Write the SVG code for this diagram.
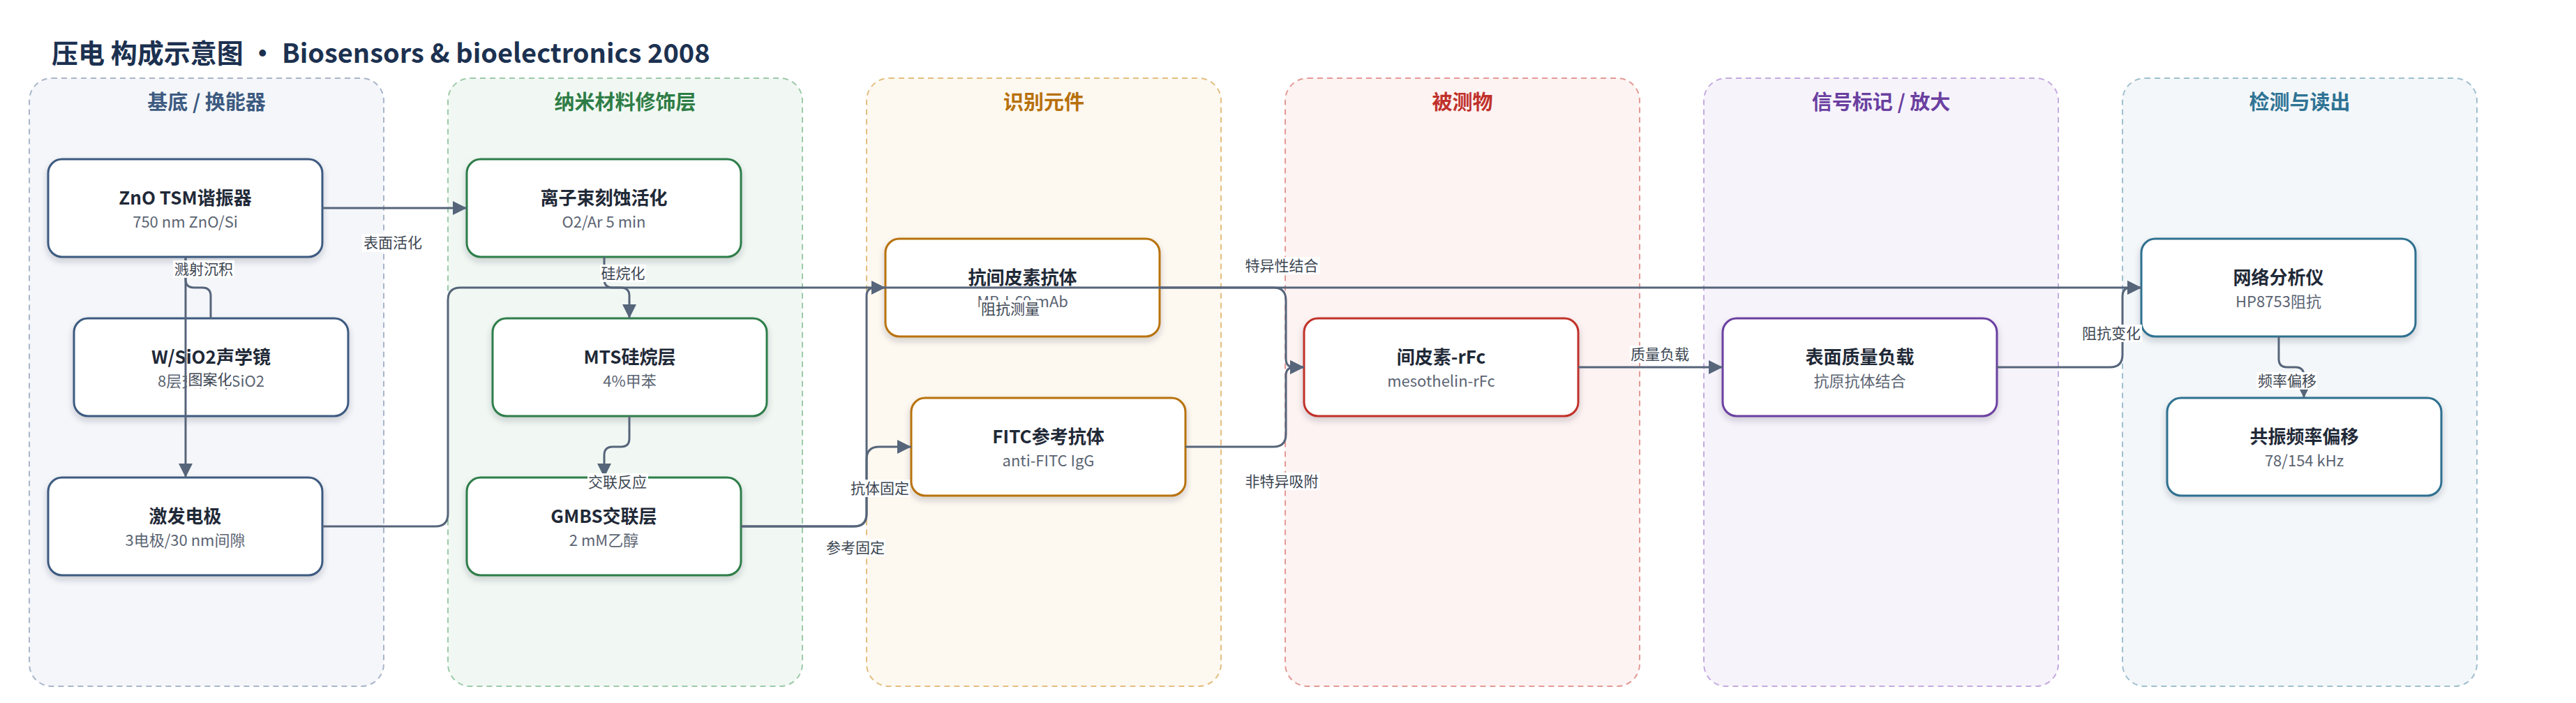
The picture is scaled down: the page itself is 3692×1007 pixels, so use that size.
<svg xmlns="http://www.w3.org/2000/svg" width="3692" height="1007" viewBox="0 0 3692 1007">
<defs>
<filter id="sh" x="-10%" y="-10%" width="120%" height="135%">
<feDropShadow dx="0" dy="5" stdDeviation="5" flood-color="#1e293b" flood-opacity="0.2"/>
</filter>
<marker id="arr" markerUnits="userSpaceOnUse" markerWidth="20" markerHeight="20" viewBox="0 0 20 20" refX="20" refY="10" orient="auto">
<path d="M0,0 L20,10 L0,20 z" fill="#56657a"/>
</marker>
</defs>
<style>
text{font-family:"Noto Sans CJK SC","Noto Sans",sans-serif;}
.title{font-size:38px;font-weight:700;fill:#1c3150;}
.lane{stroke-width:2;stroke-dasharray:8 6;}
.lt{font-size:29px;font-weight:700;text-anchor:middle;}
.node rect{fill:#fff;stroke-width:3;filter:url(#sh);}
.nt{font-size:26px;font-weight:700;fill:#1f2937;text-anchor:middle;}
.ns{font-size:22px;fill:#5b6472;text-anchor:middle;}
.c1 rect{stroke:#3d5a80;} .c2 rect{stroke:#2e7d4a;} .c3 rect{stroke:#b8720c;}
.c4 rect{stroke:#c0302a;} .c5 rect{stroke:#6b3fa0;} .c6 rect{stroke:#2f7090;}
.edges path{fill:none;stroke:#56657a;stroke-width:3;}
.lb rect{fill:#fff;fill-opacity:0.95;}
.lb text{font-size:21px;fill:#3c4652;text-anchor:middle;}
</style>
<rect width="3692" height="1007" fill="#ffffff"/>
<text class="title" x="74" y="90">压电 构成示意图 · Biosensors &amp; bioelectronics 2008</text>

<g id="lanes">
<g id="lane1"><rect class="lane" x="42" y="112" width="508" height="871" rx="32" fill="#f4f6fa" stroke="#a9b6c9"/><text class="lt" x="296" y="157" fill="#3d5a80">基底 / 换能器</text></g>
<g id="lane2"><rect class="lane" x="642" y="112" width="508" height="871" rx="32" fill="#f1f8f3" stroke="#9ccaa9"/><text class="lt" x="896" y="157" fill="#2e7d46">纳米材料修饰层</text></g>
<g id="lane3"><rect class="lane" x="1242" y="112" width="508" height="871" rx="32" fill="#fdf8f0" stroke="#e3be80"/><text class="lt" x="1496" y="157" fill="#b7700c">识别元件</text></g>
<g id="lane4"><rect class="lane" x="1842" y="112" width="508" height="871" rx="32" fill="#fdf3f2" stroke="#e39a96"/><text class="lt" x="2096" y="157" fill="#c0312b">被测物</text></g>
<g id="lane5"><rect class="lane" x="2442" y="112" width="508" height="871" rx="32" fill="#f7f3fb" stroke="#c3abdf"/><text class="lt" x="2696" y="157" fill="#6a3fa0">信号标记 / 放大</text></g>
<g id="lane6"><rect class="lane" x="3042" y="112" width="508" height="871" rx="32" fill="#f3f7f9" stroke="#9fbfcf"/><text class="lt" x="3296" y="157" fill="#2f7394">检测与读出</text></g>
</g>

<g id="nodes">
<g id="n_zno" class="node c1"><rect x="69" y="228" width="393" height="140" rx="20"/><text class="nt" x="265.5" y="293">ZnO TSM谐振器</text><text class="ns" x="265.5" y="326">750 nm ZnO/Si</text></g>
<g id="n_mirror" class="node c1"><rect x="106" y="456" width="393" height="140" rx="20"/><text class="nt" x="302.5" y="521">W/SiO2声学镜</text><text class="ns" x="302.5" y="554">8层交替W/SiO2</text></g>
<g id="n_elec" class="node c1"><rect x="69" y="684" width="393" height="140" rx="20"/><text class="nt" x="265.5" y="749">激发电极</text><text class="ns" x="265.5" y="782">3电极/30 nm间隙</text></g>
<g id="n_ion" class="node c2"><rect x="669" y="228" width="393" height="140" rx="20"/><text class="nt" x="865.5" y="293">离子束刻蚀活化</text><text class="ns" x="865.5" y="326">O2/Ar 5 min</text></g>
<g id="n_mts" class="node c2"><rect x="706" y="456" width="393" height="140" rx="20"/><text class="nt" x="902.5" y="521">MTS硅烷层</text><text class="ns" x="902.5" y="554">4%甲苯</text></g>
<g id="n_gmbs" class="node c2"><rect x="669" y="684" width="393" height="140" rx="20"/><text class="nt" x="865.5" y="749">GMBS交联层</text><text class="ns" x="865.5" y="782">2 mM乙醇</text></g>
<g id="n_ab" class="node c3"><rect x="1269" y="342" width="393" height="140" rx="20"/><text class="nt" x="1465.5" y="407">抗间皮素抗体</text><text class="ns" x="1465.5" y="440">MB-I-69 mAb</text></g>
<g id="n_fitc" class="node c3"><rect x="1306" y="570" width="393" height="140" rx="20"/><text class="nt" x="1502.5" y="635">FITC参考抗体</text><text class="ns" x="1502.5" y="668">anti-FITC IgG</text></g>
<g id="n_meso" class="node c4"><rect x="1869" y="456" width="393" height="140" rx="20"/><text class="nt" x="2065.5" y="521">间皮素-rFc</text><text class="ns" x="2065.5" y="554">mesothelin-rFc</text></g>
<g id="n_mass" class="node c5"><rect x="2469" y="456" width="393" height="140" rx="20"/><text class="nt" x="2665.5" y="521">表面质量负载</text><text class="ns" x="2665.5" y="554">抗原抗体结合</text></g>
<g id="n_na" class="node c6"><rect x="3069" y="342" width="393" height="140" rx="20"/><text class="nt" x="3265.5" y="407">网络分析仪</text><text class="ns" x="3265.5" y="440">HP8753阻抗</text></g>
<g id="n_freq" class="node c6"><rect x="3106" y="570" width="393" height="140" rx="20"/><text class="nt" x="3302.5" y="635">共振频率偏移</text><text class="ns" x="3302.5" y="668">78/154 kHz</text></g>
</g>

<g id="connectors" class="edges">
<path d="M462,298 H669" marker-end="url(#arr)"/>
<path d="M266,368 V400 Q266,412 278,412 H290 Q302,412 302,424 V456"/>
<path d="M266,368 V684" marker-end="url(#arr)"/>
<path d="M866,368 V400 Q866,412 878,412 H890 Q902,412 902,424 V456" marker-end="url(#arr)"/>
<path d="M902,596 V628 Q902,640 890,640 H878 Q866,640 866,652 V684" marker-end="url(#arr)"/>
<path d="M462,754 H624 Q642,754 642,736 V430 Q642,412 660,412 H3069" marker-end="url(#arr)"/>
<path d="M1062,754 H1224 Q1242,754 1242,736 V424 Q1242,412 1254,412 H1269" marker-end="url(#arr)"/>
<path d="M1062,754 H1224 Q1242,754 1242,736 V658 Q1242,640 1260,640 H1306" marker-end="url(#arr)"/>
<path d="M1662,412 H1825 Q1843,412 1843,430 V514 Q1843,526 1855,526 H1869" marker-end="url(#arr)"/>
<path d="M1699,640 H1825 Q1843,640 1843,622 V538 Q1843,526 1855,526 H1869" marker-end="url(#arr)"/>
<path d="M2262,526 H2469" marker-end="url(#arr)"/>
<path d="M2862,526 H3024 Q3042,526 3042,508 V424 Q3042,412 3054,412 H3069" marker-end="url(#arr)"/>
<path d="M3266,482 V514 Q3266,526 3278,526 H3290 Q3302,526 3302,538 V570" marker-end="url(#arr)"/>
</g>

<g id="edge-labels" class="lb">
<rect x="519" y="335" width="88" height="26"/><text x="563" y="355">表面活化</text>
<rect x="248" y="373" width="88" height="25"/><text x="292" y="393">溅射沉积</text>
<rect x="268" y="531" width="66" height="25"/><text x="301" y="551">图案化</text>
<rect x="860" y="379" width="66" height="25"/><text x="893" y="399">硅烷化</text>
<rect x="842" y="678" width="87" height="25"/><text x="885" y="698">交联反应</text>
<rect x="1404" y="430" width="88" height="25"/><text x="1448" y="450">阻抗测量</text>
<rect x="1218" y="687" width="86" height="25"/><text x="1261" y="707">抗体固定</text>
<rect x="1183" y="772" width="86" height="25"/><text x="1226" y="792">参考固定</text>
<rect x="1783" y="368" width="109" height="25"/><text x="1837" y="388">特异性结合</text>
<rect x="1783" y="677" width="109" height="25"/><text x="1837" y="697">非特异吸附</text>
<rect x="2336" y="495" width="87" height="25"/><text x="2379" y="515">质量负载</text>
<rect x="2983" y="465" width="87" height="25"/><text x="3026" y="485">阻抗变化</text>
<rect x="3234" y="533" width="87" height="25"/><text x="3278" y="553">频率偏移</text>
</g>
</svg>
